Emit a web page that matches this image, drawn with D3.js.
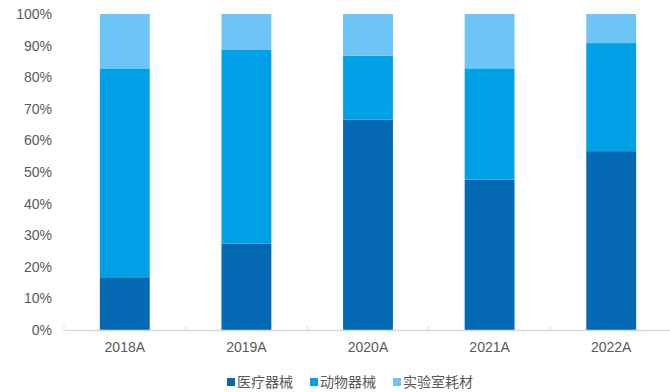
<!DOCTYPE html>
<html><head><meta charset="utf-8">
<script src="https://cdn.jsdelivr.net/npm/d3@7"></script>
<style>body{margin:0;background:#fff}text{font-family:"Liberation Sans",Arial,"Noto Sans CJK SC",sans-serif}</style>
</head><body>
<svg id="c" width="670" height="392"></svg>
<script>
const categories = ["2018A","2019A","2020A","2021A","2022A"];
const seriesNames = ["医疗器械","动物器械","实验室耗材"];
const medical = [16.7, 27.3, 66.6, 47.6, 56.6];
const animal = [65.9, 61.3, 20.2, 35.2, 34.2];
const lab = [17.4, 11.4, 13.2, 17.2, 9.2];
const yTicks = [0,10,20,30,40,50,60,70,80,90,100];
const colors = ["#0569b3","#00a0e6","#6cc5f5"];

const svg = d3.select("#c");
const x = d3.scaleBand().domain(categories).range([64,672]).paddingInner(0.59).paddingOuter(0.295);
const y = d3.scaleLinear().domain([0,100]).range([330,14]);

const rows = categories.map((c,i)=>({cat:c, "医疗器械":medical[i], "动物器械":animal[i], "实验室耗材":lab[i]}));
const stack = d3.stack().keys(seriesNames)(rows);

svg.append("g").selectAll("g").data(stack).join("g")
  .attr("fill",(d,i)=>colors[i])
  .selectAll("rect").data(d=>d).join("rect")
  .attr("x",d=>x(d.data.cat)).attr("width",x.bandwidth())
  .attr("y",d=>y(Math.min(100,d[1]))).attr("height",d=>y(d[0])-y(Math.min(100,d[1])));

// y axis labels
const yAxis = svg.append("g").attr("transform","translate(52,0)")
  .call(d3.axisLeft(y).tickValues(yTicks).tickFormat(d=>d+"%").tickSize(0).tickPadding(0));
yAxis.select(".domain").remove();
yAxis.selectAll("text").attr("fill","#595959").style("font-size","14px");

// x axis
const xAxis = svg.append("g").attr("transform","translate(0,330)")
  .call(d3.axisBottom(x).tickSize(0).tickPadding(12));
xAxis.select(".domain").attr("stroke","#d9d9d9").attr("stroke-width",1.5);
xAxis.selectAll("text").attr("fill","#595959").style("font-size","14px");
const tickX = d3.range(categories.length+1).map(i=>x.range()[0]+i*x.step());
svg.append("g").selectAll("line").data(tickX).join("line")
  .attr("x1",d=>d).attr("x2",d=>d).attr("y1",326).attr("y2",330)
  .attr("stroke","#d9d9d9").attr("stroke-width",1);

// legend
const legX = [227,310,393];
const leg = svg.append("g").selectAll("g").data(seriesNames).join("g")
  .attr("transform",(d,i)=>`translate(${legX[i]},382)`);
leg.append("rect").attr("x",0).attr("y",-4).attr("width",8).attr("height",8).attr("fill",(d,i)=>colors[i]);
leg.append("text").attr("x",10).attr("dy","0.35em").attr("fill","#595959")
  .style("font-size","14px").style("font-family","'Noto Sans CJK SC',sans-serif").text(d=>d);
</script>
</body></html>
